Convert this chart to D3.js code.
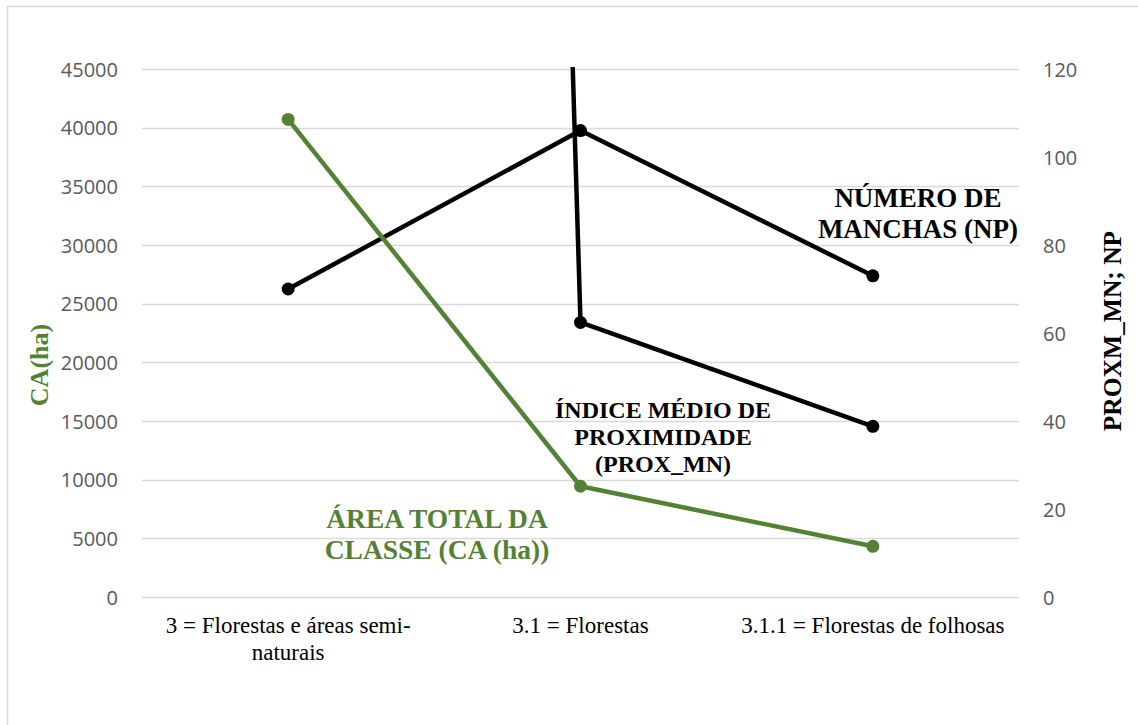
<!DOCTYPE html>
<html>
<head>
<meta charset="utf-8">
<script src="https://cdn.jsdelivr.net/npm/d3@7"></script>
<style>
  html, body { margin: 0; padding: 0; background: #fff; }
  svg { display: block; }
</style>
</head>
<body>
<svg id="chart" width="1138" height="725"></svg>
<script>
// Land-cover classes on the x axis
const categories = [
  ["3 = Florestas e áreas semi-", "naturais"],
  ["3.1 = Florestas"],
  ["3.1.1 = Florestas de folhosas"]
];
// Total class area, hectares (left axis)
const caValues = [40700, 9440, 4320];
// Number of patches (right axis)
const npValues = [70, 106, 73];
// Mean proximity index (right axis); the first value runs far above the axis
const proxValues = [2240, 62.4, 38.8];
// Tick values
const leftTicks = [0, 5000, 10000, 15000, 20000, 25000, 30000, 35000, 40000, 45000];
const rightTicks = [0, 20, 40, 60, 80, 100, 120];

const green = "#548235";
const serif = "'Liberation Serif', 'Times New Roman', serif";
const sans = "'Open Sans', sans-serif";
const svg = d3.select("#chart");

// Outer frame
svg.append("rect")
  .attr("x", 7.5).attr("y", 6.5)
  .attr("width", 1150).attr("height", 740)
  .attr("fill", "none").attr("stroke", "#d9d9d9").attr("stroke-width", 1.5);

const plot = { left: 142, right: 1019, top: 69, bottom: 597 };

const x = d3.scaleBand()
  .domain(d3.range(categories.length))
  .range([plot.left, plot.right])
  .paddingInner(0).paddingOuter(0);
const cx = i => x(i) + x.bandwidth() / 2;

const yLeft = d3.scaleLinear().domain([0, 45000]).range([plot.bottom, plot.top]);
const yRight = d3.scaleLinear().domain([0, 120]).range([plot.bottom, plot.top]);

// Gridlines
svg.append("g")
  .selectAll("line")
  .data(leftTicks)
  .join("line")
  .attr("x1", plot.left).attr("x2", plot.right)
  .attr("y1", d => Math.round(yLeft(d)) + 0.5)
  .attr("y2", d => Math.round(yLeft(d)) + 0.5)
  .attr("stroke", "#d9d9d9").attr("stroke-width", 1.3);

// Left axis
const leftAxis = svg.append("g")
  .attr("transform", `translate(${plot.left - 24},0)`)
  .call(d3.axisLeft(yLeft).tickValues(leftTicks).tickSize(0).tickPadding(0).tickFormat(d3.format("d")));
leftAxis.select(".domain").remove();
leftAxis.selectAll("text")
  .attr("font-family", sans)
  .attr("font-size", 20)
  .attr("fill", "#595959")
  .attr("dy", "0.35em");

// Right axis
const rightAxis = svg.append("g")
  .attr("transform", `translate(${plot.right + 24},0)`)
  .call(d3.axisRight(yRight).tickValues(rightTicks).tickSize(0).tickPadding(0));
rightAxis.select(".domain").remove();
rightAxis.selectAll("text")
  .attr("font-family", sans)
  .attr("font-size", 20)
  .attr("fill", "#595959")
  .attr("dy", "0.35em");

// Category labels
const xLabels = svg.append("g")
  .selectAll("text")
  .data(categories)
  .join("text")
  .attr("x", (d, i) => cx(i))
  .attr("y", plot.bottom + 36)
  .attr("text-anchor", "middle")
  .attr("font-family", serif)
  .attr("font-size", 23)
  .attr("fill", "#000");
xLabels.each(function(d) {
  const t = d3.select(this);
  d.forEach((line, j) => {
    t.append("tspan").attr("x", t.attr("x")).attr("dy", j === 0 ? 0 : 27).text(line);
  });
});

// Axis titles
svg.append("text")
  .attr("transform", "translate(48,365) rotate(-90)")
  .attr("text-anchor", "middle")
  .attr("font-family", serif)
  .attr("font-weight", "bold")
  .attr("font-size", 26)
  .attr("fill", green)
  .text("CA(ha)");
svg.append("text")
  .attr("transform", "translate(1121,331) rotate(-90)")
  .attr("text-anchor", "middle")
  .attr("font-family", serif)
  .attr("font-weight", "bold")
  .attr("font-size", 25.5)
  .attr("fill", "#000")
  .text("PROXM_MN; NP");

// Series
svg.append("clipPath").attr("id", "plotClip")
  .append("rect")
  .attr("x", plot.left - 20).attr("y", plot.top - 2)
  .attr("width", plot.right - plot.left + 40).attr("height", plot.bottom - plot.top + 20);

const series = [
  { values: proxValues, scale: yRight, color: "#000" },
  { values: npValues, scale: yRight, color: "#000" },
  { values: caValues, scale: yLeft, color: green }
];

const g = svg.append("g").attr("clip-path", "url(#plotClip)");
series.forEach(s => {
  const line = d3.line().x((d, i) => cx(i)).y(d => s.scale(d));
  g.append("path")
    .datum(s.values)
    .attr("d", line)
    .attr("fill", "none")
    .attr("stroke", s.color)
    .attr("stroke-width", 4.5)
    .attr("stroke-linejoin", "round");
  g.selectAll(null)
    .data(s.values)
    .join("circle")
    .attr("cx", (d, i) => cx(i))
    .attr("cy", d => s.scale(d))
    .attr("r", 6.5)
    .attr("fill", s.color);
});

// Series annotations
function annotate(lines, xPos, yPos, size, color, gap) {
  const t = svg.append("text")
    .attr("text-anchor", "middle")
    .attr("font-family", serif)
    .attr("font-weight", "bold")
    .attr("font-size", size)
    .attr("fill", color);
  lines.forEach((l, j) => {
    t.append("tspan").attr("x", xPos).attr("y", yPos + j * gap).text(l);
  });
}
annotate(["NÚMERO DE", "MANCHAS (NP)"], 918, 207, 27, "#000", 31);
annotate(["ÍNDICE MÉDIO DE", "PROXIMIDADE", "(PROX_MN)"], 663, 418, 24, "#000", 27);
annotate(["ÁREA TOTAL DA", "CLASSE (CA (ha))"], 437, 528, 27.5, green, 31);
</script>
</body>
</html>
